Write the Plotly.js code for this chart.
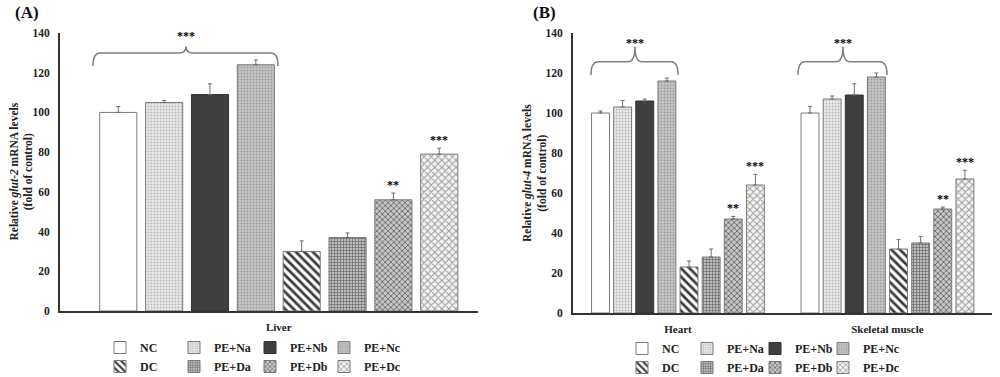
<!DOCTYPE html>
<html>
<head>
<meta charset="utf-8">
<script src="https://cdn.plot.ly/plotly-3.0.1.min.js"></script>
<style>html,body{margin:0;padding:0;background:#fff}#chart{width:1000px;height:377px}</style>
</head>
<body>
<div id="chart"></div>
<script>
// ---------- data ----------
const groups = ['NC', 'PE+Na', 'PE+Nb', 'PE+Nc', 'DC', 'PE+Da', 'PE+Db', 'PE+Dc'];
const categoriesA = ['Liver'];
const categoriesB = ['Heart', 'Skeletal muscle'];

const liverValues  = [100, 105, 109, 124, 30, 37, 56, 79];
const liverErrors  = [3, 1, 5.4, 2.4, 5.3, 2.3, 3.4, 3];
const heartValues  = [100, 103, 106, 116, 23, 28, 47, 64];
const heartErrors  = [1, 3.3, 1, 1.5, 3, 4, 1.3, 5.3];
const muscleValues = [100, 107, 109, 118, 32, 35, 52, 67];
const muscleErrors = [3.3, 1.5, 5.6, 2, 4.7, 3.3, 1, 4.4];

const liverSig  = ['', '', '', '', '', '', '**', '***'];
const heartSig  = ['', '', '', '', '', '', '**', '***'];
const muscleSig = ['', '', '', '', '', '', '**', '***'];
const bracketSig = '***';

const yTitleA = 'Relative <i>glut-2</i> mRNA levels<br>(fold of control)';
const yTitleB = 'Relative <i>glut-4</i> mRNA levels<br>(fold of control)';

// ---------- styles ----------
const FONT = "'Liberation Serif', 'Times New Roman', serif";
const lineCol = '#7a7a7a';
const styles = [
  {color: '#ffffff', pattern: {shape: ''}},
  {color: '#e6e6e6', pattern: {shape: '.', fgcolor: '#b4b4b4', bgcolor: '#ebebeb', size: 3, solidity: 0.3}},
  {color: '#3f3f3f', pattern: {shape: ''}},
  {color: '#c2c2c2', pattern: {shape: '.', fgcolor: '#9c9c9c', bgcolor: '#c6c6c6', size: 3, solidity: 0.3}},
  {color: '#ffffff', pattern: {shape: '\\', fgcolor: '#3a3a3a', bgcolor: '#ffffff', size: 6, solidity: 0.45}},
  {color: '#b0b0b0', pattern: {shape: '+', fgcolor: '#6a6a6a', bgcolor: '#bdbdbd', size: 3, solidity: 0.4}},
  {color: '#a8a8a8', pattern: {shape: 'x', fgcolor: '#686868', bgcolor: '#c6c6c6', size: 4, solidity: 0.4}},
  {color: '#e8e8e8', pattern: {shape: 'x', fgcolor: '#9a9a9a', bgcolor: '#f2f2f2', size: 5, solidity: 0.35}}
];

const BARGAP = 0.155;
const BARGROUPGAP = 0.19;

const traces = [];
function addPanel(xa, ya, cats, valueSets, errorSets, legendOffset) {
  groups.forEach((g, i) => {
    const st = styles[i];
    const marker = {color: st.color, line: {color: i === 2 ? '#333333' : lineCol, width: 1}};
    if (st.pattern.shape) marker.pattern = Object.assign({fillmode: 'replace'}, st.pattern);
    const li = legendOffset + (i % 4);
    traces.push({
      type: 'bar',
      name: g,
      x: cats,
      y: valueSets.map(v => v[i]),
      xaxis: xa, yaxis: ya,
      marker: marker,
      error_y: {type: 'data', symmetric: false, array: errorSets.map(e => e[i]),
                arrayminus: errorSets.map(() => 0), color: '#6e6e6e', thickness: 1, width: 2},
      legend: li === 1 ? 'legend' : 'legend' + li,
      legendgroup: xa + g,
      showlegend: true,
      hoverinfo: 'skip'
    });
  });
}
addPanel('x', 'y', categoriesA, [liverValues], [liverErrors], 1);
addPanel('x2', 'y2', categoriesB, [heartValues, muscleValues], [heartErrors, muscleErrors], 5);

// ---------- geometry helpers (pixel -> paper) ----------
const W = 1000, H = 377;
const px = v => v / W;
const py = v => 1 - v / H;

function bracketPath(x0, x1, xm, yEnd, yTop, yPeak) {
  const r = 7;
  const P = (x, y) => px(x).toFixed(5) + ',' + py(y).toFixed(5);
  return 'M' + P(x0, yEnd) + ' Q' + P(x0, yTop) + ' ' + P(x0 + r, yTop) +
         ' L' + P(xm - r, yTop) + ' Q' + P(xm, yTop) + ' ' + P(xm, yPeak) +
         ' Q' + P(xm, yTop) + ' ' + P(xm + r, yTop) +
         ' L' + P(x1 - r, yTop) + ' Q' + P(x1, yTop) + ' ' + P(x1, yEnd);
}

const shapes = [
  {type: 'path', xref: 'paper', yref: 'paper', path: bracketPath(93, 278, 186, 66, 53, 46.5), line: {color: '#808080', width: 1.5}},
  {type: 'path', xref: 'paper', yref: 'paper', path: bracketPath(591, 678, 635, 75, 61.7, 46.5), line: {color: '#808080', width: 1.5}},
  {type: 'path', xref: 'paper', yref: 'paper', path: bracketPath(798, 887, 843, 75, 61.7, 46.5), line: {color: '#808080', width: 1.5}}
];

const annotations = [];
const starFont = {family: FONT, size: 12, color: '#000', weight: 'bold'};
function addStars(xref, yref, catIndex, values, errors, sig) {
  sig.forEach((s, i) => {
    if (!s) return;
    const off = (i - 3.5) * (1 - BARGAP) / 8;
    annotations.push({xref: xref, yref: yref, x: catIndex + off, y: values[i] + errors[i],
      text: '<b>' + s + '</b>', showarrow: false, yanchor: 'middle', yshift: 8, font: starFont});
  });
}
addStars('x', 'y', 0, liverValues, liverErrors, liverSig);
addStars('x2', 'y2', 0, heartValues, heartErrors, heartSig);
addStars('x2', 'y2', 1, muscleValues, muscleErrors, muscleSig);

[[186, 36], [635, 43], [843, 43]].forEach(p => {
  annotations.push({xref: 'paper', yref: 'paper', x: px(p[0]), y: py(p[1]), text: '<b>' + bracketSig + '</b>',
    showarrow: false, xanchor: 'center', yanchor: 'middle', font: starFont});
});
annotations.push({xref: 'paper', yref: 'paper', x: px(13), y: py(13), text: '<b>(A)</b>', showarrow: false,
  xanchor: 'left', yanchor: 'middle', font: {family: FONT, size: 17, color: '#111'}});
annotations.push({xref: 'paper', yref: 'paper', x: px(531), y: py(13), text: '<b>(B)</b>', showarrow: false,
  xanchor: 'left', yanchor: 'middle', font: {family: FONT, size: 17, color: '#111'}});

// y-axis titles (rotated text)
const yTitleFont = {family: FONT, size: 11.5, color: '#222', weight: 'bold'};
annotations.push({xref: 'paper', yref: 'paper', x: px(21.5), y: py(172), text: yTitleA, textangle: -90,
  showarrow: false, xanchor: 'center', yanchor: 'middle', font: yTitleFont});
annotations.push({xref: 'paper', yref: 'paper', x: px(535), y: py(173), text: yTitleB, textangle: -90,
  showarrow: false, xanchor: 'center', yanchor: 'middle', font: yTitleFont});

// ---------- axes ----------
const tickFont = {family: FONT, size: 11.5, color: '#222', weight: 'bold'};
function yAxis(domain, anchor) {
  return {domain: domain, anchor: anchor, range: [0, 140], dtick: 20, showgrid: false, zeroline: false,
    showline: true, linecolor: '#333', linewidth: 2, ticks: '', ticklabelstandoff: 6, tickfont: tickFont,
    fixedrange: true, automargin: false};
}
function xAxis(domain, anchor, range) {
  return {domain: domain, anchor: anchor, type: 'category', range: range, showgrid: false, zeroline: false,
    showline: true, linecolor: '#333', linewidth: 2, ticks: '', tickangle: 0,
    tickfont: {family: FONT, size: 11, color: '#222', weight: 'bold'},
    ticklabelstandoff: 5, fixedrange: true, automargin: false};
}

// ---------- legends ----------
const legendFont = {family: FONT, size: 12, color: '#222', weight: 'bold'};
function legendAt(xPix, yPix) {
  return {xref: 'container', yref: 'container', x: px(xPix), y: py(yPix), xanchor: 'left', yanchor: 'top',
    orientation: 'v', bgcolor: 'rgba(0,0,0,0)', borderwidth: 0, font: legendFont, traceorder: 'normal',
    tracegroupgap: 1, itemclick: false, itemdoubleclick: false};
}

const layout = {
  width: W, height: H,
  margin: {l: 0, r: 0, t: 0, b: 0, autoexpand: false},
  paper_bgcolor: '#ffffff', plot_bgcolor: '#ffffff',
  barmode: 'group', bargap: BARGAP, bargroupgap: BARGROUPGAP,
  xaxis: xAxis([0.060, 0.478], 'y', [-0.504, 0.459]),
  yaxis: yAxis([(H - 311) / H, (H - 33) / H], 'x'),
  xaxis2: xAxis([0.573, 0.992], 'y2', [-0.501, 1.499]),
  yaxis2: yAxis([(H - 313) / H, (H - 33) / H], 'x2'),
  legend:  legendAt(100, 333),
  legend2: legendAt(174, 333),
  legend3: legendAt(250, 333),
  legend4: legendAt(324, 333),
  legend5: legendAt(622, 334),
  legend6: legendAt(687, 334),
  legend7: legendAt(755, 334),
  legend8: legendAt(823, 334),
  shapes: shapes,
  annotations: annotations,
  showlegend: true
};

Plotly.newPlot('chart', traces, layout, {displayModeBar: false, staticPlot: true});
</script>
</body>
</html>
